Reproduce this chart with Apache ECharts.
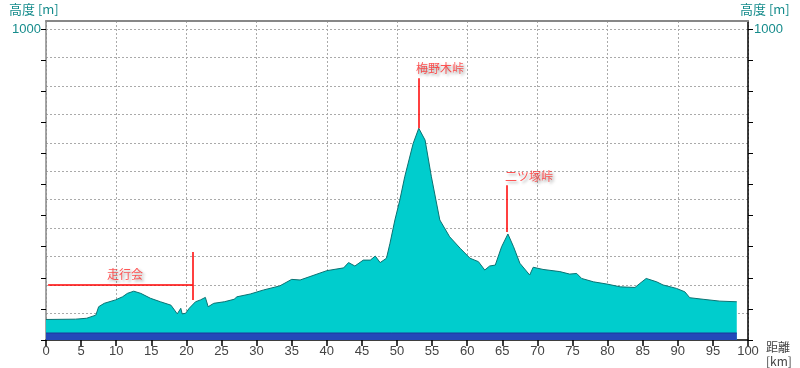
<!DOCTYPE html>
<html><head><meta charset="utf-8">
<script src="https://cdn.jsdelivr.net/npm/echarts@6/dist/echarts.min.js"></script>
<style>html,body{margin:0;padding:0;background:#fff}#c{width:800px;height:368px}</style>
</head><body><div id="c"></div>
<script>
// distance (km) and elevation (m)
const distKm = [0,4.2,5.8,7.1,7.5,8.3,9.9,10.9,11.6,12.5,13.5,14.9,16.3,17.8,18.7,19.2,19.4,19.9,20.4,21.3,22.0,22.7,23.1,23.9,25.4,26.8,27.2,29.1,31.0,33.3,35.0,36.2,37.6,40.0,42.4,43.1,44.0,45.2,46.2,46.9,47.6,48.5,49.0,49.7,50.4,51.1,52.3,53.1,54.0,54.9,56.1,57.5,59.0,60.4,61.6,62.5,63.2,64.0,64.9,65.8,66.6,67.5,68.9,69.4,70.8,73.2,74.6,75.6,76.3,78.0,79.9,81.8,83.9,84.6,85.5,87.0,87.9,89.8,91.0,91.7,93.6,96.0,98.4];
const elevM = [66,67,70,80,107,118,129,139,150,157,150,134,123,112,84,102,84,86,102,123,129,137,107,118,123,131,139,148,161,174,195,193,204,223,232,249,238,257,257,270,249,263,311,386,450,525,632,681,643,525,386,332,295,263,252,225,238,241,300,341,300,247,209,234,227,220,212,214,198,187,180,171,169,182,198,187,177,166,155,136,131,125,123];
// bottom road band
const bandKm = [0, 98.4];
const bandM = [22.5, 22.5];
// annotations
const annoNames = ['梅野木峠','二ツ塚峠','走行会'];
const annoLabelKm = [52.7, 65.4, 8.7];
const annoLabelM = [875, 527, 212];
const annoLines = [
  [[53.1,681],[53.1,842]],
  [[65.7,347],[65.7,498]],
  [[0.3,177],[20.9,177]],
  [[20.9,129],[20.9,283]]
];
const xTicks = [0,100,5];
const yTickLabel = 1000;
const yAxisTitle = '高度 [m]';
const xAxisTitle = '距離\n[km]';

const profile = distKm.map((d,i)=>[d,elevM[i]]);
const band = bandKm.map((d,i)=>[d,bandM[i]]);
const labelPts = annoNames.map((n,i)=>({value:[annoLabelKm[i],annoLabelM[i]],name:n}));

const teal = '#168c8c';
const yLabelFmt = v => v===yTickLabel ? String(v) : '';
const chart = echarts.init(document.getElementById('c'));
chart.setOption({
  animation:false,
  title:[
    {text:yAxisTitle,left:9,top:3,textStyle:{color:teal,fontFamily:'Noto Sans CJK JP',fontSize:13,fontWeight:'normal'},padding:0},
    {text:yAxisTitle,left:740,top:3,textStyle:{color:teal,fontFamily:'Noto Sans CJK JP',fontSize:13,fontWeight:'normal'},padding:0},
    {text:xAxisTitle,left:766,top:340,textStyle:{color:'#444',fontFamily:'Noto Sans CJK JP',fontSize:12,lineHeight:14,fontWeight:'normal'},padding:0}
  ],
  grid:[
    {left:46,right:52,top:21,bottom:28},
    {left:46,right:52,top:29,height:284.5},
    {left:46,right:52,top:21,bottom:28}
  ],
  xAxis:[
    {gridIndex:0,type:'value',min:xTicks[0],max:xTicks[1],interval:xTicks[2],position:'bottom',
     axisLine:{lineStyle:{color:'#000',width:1.5}},
     axisTick:{length:6,lineStyle:{color:'#000',width:1.5}},
     axisLabel:{color:'#444',fontFamily:'Liberation Sans',fontSize:13,margin:5},
     splitLine:{show:false}},
    {gridIndex:0,type:'value',min:0,max:100,interval:10,position:'top',
     axisLine:{show:true,lineStyle:{color:'#888',width:2}},axisTick:{show:false},axisLabel:{show:false},
     splitLine:{show:true,lineStyle:{color:'#aaa',type:[2,2],width:1}}},
    {gridIndex:1,type:'value',min:0,max:100,show:false},
    {gridIndex:2,type:'value',min:0,max:100,show:false}
  ],
  yAxis:[
    {gridIndex:0,type:'value',min:0,max:1026,interval:100,position:'left',
     axisLine:{show:true,lineStyle:{color:'#888',width:1.5}},
     axisTick:{show:true,length:5,lineStyle:{color:'#000'}},
     axisLabel:{color:teal,fontFamily:'Liberation Sans',fontSize:13,margin:5,showMaxLabel:false,formatter:yLabelFmt},
     splitLine:{show:false}},
    {gridIndex:1,type:'value',min:1,max:11,interval:1,
     axisLine:{show:false},axisTick:{show:false},axisLabel:{show:false},
     splitLine:{show:true,lineStyle:{color:'#aaa',type:[2,2],width:1}}},
    {gridIndex:2,type:'value',min:0,max:1026,interval:100,position:'right',
     axisLine:{show:true,onZero:false,lineStyle:{color:'#000',width:1.5}},
     axisTick:{show:true,inside:false,length:5,lineStyle:{color:'#000',width:1}},
     axisLabel:{show:true,color:teal,fontFamily:'Liberation Sans',fontSize:13,margin:6,showMaxLabel:false,formatter:yLabelFmt},
     splitLine:{show:false}}
  ],
  series:[
    {type:'line',xAxisIndex:0,yAxisIndex:0,data:profile,symbol:'none',z:3,
     lineStyle:{color:'#0a7272',width:1},areaStyle:{color:'#00cdcd',opacity:1},
     markLine:{silent:true,symbol:'none',animation:false,label:{show:false},
       lineStyle:{color:'#ff0000',width:1.5,type:'solid'},
       data:annoLines.map(l=>[{coord:l[0]},{coord:l[1]}])}},
    {type:'line',xAxisIndex:0,yAxisIndex:0,data:band,symbol:'none',z:4,
     lineStyle:{color:'#1a3a9a',width:1},areaStyle:{color:'#2449b9',opacity:1}},
    {type:'line',xAxisIndex:3,yAxisIndex:2,data:[],symbol:'none'},
    {type:'scatter',xAxisIndex:0,yAxisIndex:0,data:labelPts,symbolSize:0,z:6,
     label:{show:true,position:'right',distance:0,formatter:p=>p.name,color:'#ff2a2a',
       fontFamily:'Noto Sans CJK JP',fontSize:12,
       textShadowColor:'rgba(0,0,0,0.45)',textShadowBlur:3,textShadowOffsetX:2,textShadowOffsetY:2}}
  ]
});
</script></body></html>
